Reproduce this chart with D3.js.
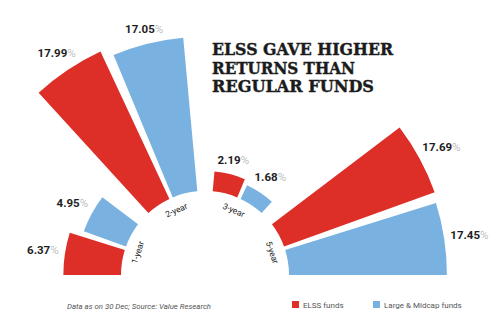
<!DOCTYPE html>
<html>
<head>
<meta charset="utf-8">
<script src="https://cdn.jsdelivr.net/npm/d3@7"></script>
<style>
  body { margin: 0; background: #fff; }
</style>
</head>
<body>
<div id="chart"></div>
<script>

// data

let periods = ["1-year", "2-year", "3-year", "5-year"];
let elss = [6.37, 17.99, 2.19, 17.69];
let largeMid = [4.95, 17.05, 1.68, 17.45];
let seriesNames = ["ELSS funds", "Large & Midcap funds"];
let titleLines = ["ELSS GAVE HIGHER", "RETURNS THAN", "REGULAR FUNDS"];

let width = 500;
let height = 323;
let cx = 205, cy = 275;
let colors = ["#dd2e27", "#79b2e0"];

let rows = [];
periods.forEach((p, i) => {
  rows.push({ period: p, series: seriesNames[0], value: elss[i] });
  rows.push({ period: p, series: seriesNames[1], value: largeMid[i] });
});

let svg = d3.select("#chart")
  .append("svg")
    .attr("width", width)
    .attr("height", height);

let g = svg.append("g")
  .attr("transform", `translate(${cx},${cy})`);

// angle scales: half circle from left (-90deg) to right (+90deg)

let x0 = d3.scaleBand()
  .domain(periods)
  .range([-Math.PI / 2, Math.PI / 2])
  .paddingInner(0.22)
  .paddingOuter(0);

let x1 = d3.scaleBand()
  .domain(seriesNames)
  .range([0, x0.bandwidth()])
  .paddingInner(0.126);

let y = d3.scaleLinear()
  .domain([0, 20])
  .range([84, 265]);

let color = d3.scaleOrdinal()
  .domain(seriesNames)
  .range(colors);

let arc = d3.arc()
  .innerRadius(y(0))
  .outerRadius(d => y(d.value))
  .startAngle(d => x0(d.period) + x1(d.series))
  .endAngle(d => x0(d.period) + x1(d.series) + x1.bandwidth());

g.selectAll(".bar")
  .data(rows)
  .join("path")
  .attr("class", "bar")
  .attr("d", arc)
  .attr("fill", d => color(d.series));

// value labels at the end of every bar

let labels = g.selectAll(".val")
  .data(rows)
  .join("text")
  .attr("class", "val")
  .attr("text-anchor", "middle")
  .attr("dominant-baseline", "central")
  .style("font-family", "Roboto, sans-serif")
  .style("font-size", "11.5px");

labels.append("tspan")
  .style("font-weight", "bold")
  .attr("fill", "#1e1e1e")
  .text(d => d.value.toFixed(2));

labels.append("tspan")
  .attr("fill", "#a8a8a8")
  .style("font-weight", "300")
  .text("%");

labels.each(function (d) {
  let box = this.getBBox();
  let a = x0(d.period) + x1(d.series) + x1.bandwidth() / 2;
  let r = y(d.value) + 6 + Math.abs(Math.sin(a)) * box.width / 2 + Math.abs(Math.cos(a)) * 4.5;
  d3.select(this)
    .attr("x", r * Math.sin(a))
    .attr("y", -r * Math.cos(a));
});

// period labels along the inner ring

g.selectAll(".period")
  .data(periods)
  .join("text")
  .attr("class", "period")
  .attr("transform", d => {
    let a = x0(d) + x0.bandwidth() / 2;
    let deg = a * 180 / Math.PI;
    return `rotate(${deg}) translate(0,-71)`;
  })
  .attr("text-anchor", "middle")
  .attr("dominant-baseline", "central")
  .style("font-family", "Roboto, sans-serif")
  .style("font-size", "8.5px")
  .attr("fill", "#222")
  .text(d => d);

// title

let titleWidths = [181, 143, 162];

svg.selectAll(".title")
  .data(titleLines)
  .join("text")
  .attr("class", "title")
  .attr("x", 212)
  .attr("y", (d, i) => 55 + i * 18.5)
  .attr("textLength", (d, i) => titleWidths[i])
  .attr("lengthAdjust", "spacingAndGlyphs")
  .style("font-family", "'DejaVu Serif', serif")
  .style("font-weight", "bold")
  .style("font-size", "16px")
  .style("stroke", "#1b1b1b")
  .style("stroke-width", "0.4px")
  .attr("fill", "#1b1b1b")
  .text(d => d);

// source note

svg.append("text")
  .attr("x", 67)
  .attr("y", 309)
  .style("font-family", "Roboto, sans-serif")
  .style("font-style", "italic")
  .style("font-size", "7.8px")
  .attr("fill", "#555")
  .text("Data as on 30 Dec; Source: Value Research");

// legend

let legendX = [292, 373];

let legend = svg.selectAll(".legend")
  .data(seriesNames)
  .join("g")
  .attr("class", "legend")
  .attr("transform", (d, i) => `translate(${legendX[i]},301)`);

legend.append("rect")
  .attr("width", 7)
  .attr("height", 7)
  .attr("fill", d => color(d));

legend.append("text")
  .attr("x", 11)
  .attr("y", 6.5)
  .style("font-family", "Roboto, sans-serif")
  .style("font-size", "8px")
  .attr("fill", "#555")
  .text(d => d);

</script>
</body>
</html>
